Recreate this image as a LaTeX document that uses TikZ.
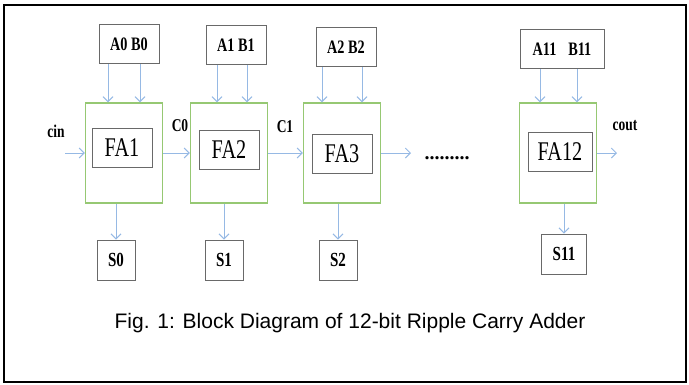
\documentclass[tikz,border=0pt]{standalone}
\usepackage{fontspec}
\setmainfont{Liberation Serif}
\newfontfamily\capfont{Liberation Sans}
\newfontfamily\boxfont[FakeStretch=0.75]{Liberation Serif}
\usepackage{tikz}
\usetikzlibrary{positioning}
\usetikzlibrary{shapes,arrows.meta}
\definecolor{fagreen}{RGB}{150,200,115}
\definecolor{wireblue}{RGB}{150,185,228}
\definecolor{boxgray}{RGB}{105,105,105}
\tikzset{%
  block/.style    = {draw=fagreen, line width=1.2pt, rectangle, minimum height = 100pt,
    minimum width = 77pt},
  fabox/.style    = {draw=boxgray, line width=0.9pt, rectangle, minimum height = 39pt,
    minimum width = 60pt, font=\boxfont\fontsize{27}{27}\selectfont}, % FA label
  inbox/.style    = {draw=boxgray, line width=0.9pt, rectangle, minimum height = 39pt,
    minimum width = 60pt, font=\boxfont\fontsize{19}{19}\selectfont\bfseries}, % A,B inputs
  sumbox/.style   = {draw=boxgray, line width=0.9pt, rectangle, minimum height = 40pt,
    minimum width = 38pt, font=\boxfont\fontsize{20}{20}\selectfont\bfseries}, % sums
  sig/.style      = {font=\boxfont\fontsize{18}{18}\selectfont\bfseries}, % carry names
  wire/.style     = {->, draw=wireblue, line width=1pt},
  input/.style    = {coordinate}, % Input
  output/.style   = {coordinate}  % Output
}

\begin{document}
\begin{tikzpicture}[x=1pt, y=-1pt, >={Straight Barb[length=5pt, width=10pt]}]

  \useasboundingbox (0,0) rectangle (689,384);
  \draw[line width=1.5pt] (4,5) rectangle (686,382);

  % full adder blocks
  \draw node at (124,153) [block] (blk1) {};
  \draw node at (229,153) [block] (blk2) {};
  \draw node at (342,153) [block] (blk3) {};
  \draw node at (558,153) [block] (blk12) {};

  \draw node at (122,148) [fabox] (fa1) {FA1};
  \draw node at (229,150) [fabox] (fa2) {FA2};
  \draw node at (342,154) [fabox] (fa3) {FA3};
  \draw node at (560,152) [fabox, minimum width = 64pt] (fa12) {FA12};

  % operand inputs
  \draw node at (129,44) [inbox] (ab0) {A0 B0};
  \draw node at (236,45) [inbox] (ab1) {A1 B1};
  \draw node at (346,47) [inbox] (ab2) {A2 B2};
  \draw node at (562,49) [inbox, minimum width = 84pt] (ab11) {A11\hspace{12pt}B11};

  % sum outputs
  \draw node at (116,260) [sumbox] (s0) {S0};
  \draw node at (224,260) [sumbox] (s1) {S1};
  \draw node at (338,260) [sumbox] (s2) {S2};
  \draw node at (564,254) [sumbox, minimum width = 45pt] (s11) {S11};

  % carries
  \draw node at (65,153) [input] (cin) {};
  \draw node at (411,153) [output] (c2) {};
  \draw node at (617,153) [output] (cout) {};
  \draw node at (56,131) [sig] (lcin) {cin};
  \draw node at (180,126) [sig] (lc0) {C0};
  \draw node at (285,127) [sig] (lc1) {C1};
  \draw node at (625,126) [sig] (lcout) {cout};
  \draw node at (447,158) [font=\bfseries\fontsize{20}{20}\selectfont] (dots) {.........};

  \draw[wire] (cin) -- (blk1);
  \draw[wire] (blk1) -- (blk2);
  \draw[wire] (blk2) -- (blk3);
  \draw[wire] (blk3) -- (c2);
  \draw[wire] (blk12) -- (cout);

  \draw[wire] ([xshift=-21pt]ab0.south) -- ([xshift=-16pt]blk1.north);
  \draw[wire] ([xshift=11pt]ab0.south) -- ([xshift=16pt]blk1.north);
  \draw[wire] ([xshift=-19pt]ab1.south) -- ([xshift=-12pt]blk2.north);
  \draw[wire] ([xshift=11pt]ab1.south) -- ([xshift=18pt]blk2.north);
  \draw[wire] ([xshift=-24pt]ab2.south) -- ([xshift=-20pt]blk3.north);
  \draw[wire] ([xshift=16pt]ab2.south) -- ([xshift=20pt]blk3.north);
  \draw[wire] ([xshift=-22pt]ab11.south) -- ([xshift=-18pt]blk12.north);
  \draw[wire] ([xshift=15pt]ab11.south) -- ([xshift=19pt]blk12.north);

  \draw[wire] (blk1.south -| s0) -- (s0);
  \draw[wire] (blk2.south -| s1) -- (s1);
  \draw[wire] (blk3.south -| s2) -- (s2);
  \draw[wire] (blk12.south -| s11) -- (s11);

  \draw node at (350,323) [font=\capfont\fontsize{21}{21}\selectfont] (caption)
    {Fig. 1: Block Diagram of 12-bit Ripple Carry Adder};

\end{tikzpicture}
\end{document}
